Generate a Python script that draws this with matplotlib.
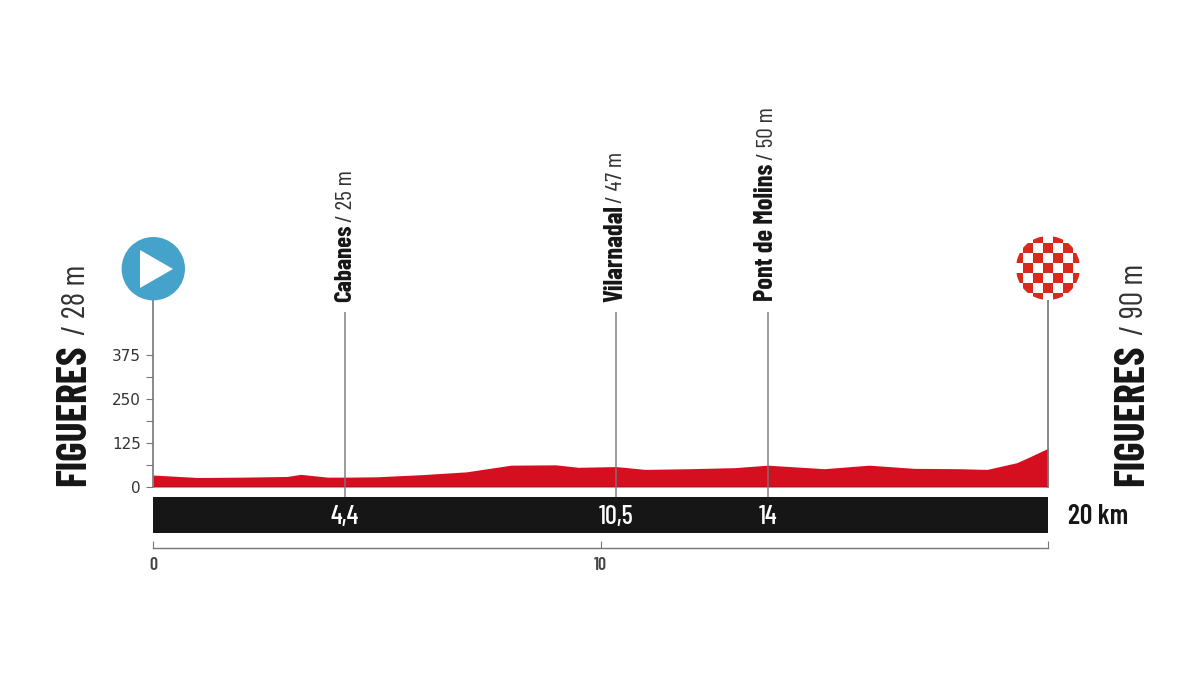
"""Perfil de etapa: Figueres - Figueres, 20 km."""
import matplotlib
matplotlib.use("Agg")
import matplotlib.pyplot as plt
from matplotlib.patches import Circle, Polygon, Rectangle
from matplotlib.transforms import Affine2D

# profile
km = [0, 1, 2, 3, 3.3, 3.9, 4.4, 5, 6, 7, 8, 9, 9.5, 10.35, 11, 12, 13, 13.74, 15, 16, 17, 18, 18.64, 19.3, 19.53, 20]
elev = [34, 27, 28, 30, 36, 28, 28, 29, 35, 43, 62, 63, 56, 58, 50, 52, 55, 62, 52, 62, 53, 52, 50, 69, 82, 110]

# waypoints
way_km = [4.29, 10.35, 13.74]
way_names = ["Cabanes", "Vilarnadal", "Pont de Molins"]
way_alts = ["/ 25 m", "/ 47 m", "/ 50 m"]
way_labels = ["4,4", "10,5", "14"]

y_major = [0, 125, 250, 375]
y_minor = [62.5, 187.5, 312.5]
x_ticks = [0, 10, 20]
x_labels = ["0", "10", ""]

start_name = "FIGUERES"
start_alt = "/ 28 m"
finish_name = "FIGUERES"
finish_alt = "/ 90 m"
total = "20 km"

RED = "#d50f20"
BLACK = "#161616"
GREY = "#777777"
BLUE = "#45a3cb"
CHECK = "#d9281c"
NARROW = ["Barlow Condensed", "Liberation Sans"]

PX_M = 0.352  # pixels per metre

fig = plt.figure(figsize=(12, 6.75), dpi=100)
ax = fig.add_axes([153 / 1200, (675 - 487) / 675, 895 / 1200, 187 / 675])
ax.set_xlim(0, 20)
ax.set_ylim(0, 187 / PX_M)
ax.patch.set_alpha(0)

# figure pixels, y going down as in the reference
px = Affine2D().scale(1, -1).translate(0, 675)


def vtext(x, y, s, size, weight="bold", color=BLACK):
    """Texte vertical, x = ligne de base, y = début du texte (pixels)."""
    ax.text(x, y, s, transform=px, rotation=90, rotation_mode="anchor", ha="left", va="baseline",
            fontsize=size, fontweight=weight, color=color, family=NARROW, clip_on=False)


ax.fill_between(km, elev, 0, color=RED, linewidth=0, zorder=2)
ax.axhline(0, color="#4a0c12", lw=1.0, zorder=3)

# distance bar
ax.barh(-79, 20, height=104, left=0, color=BLACK, clip_on=False, zorder=2)
ax.text(1128, 517, total, transform=px, ha="right", va="center", fontsize=20, fontweight=600,
        color=BLACK, family=NARROW)

ax.vlines(way_km, -27, 497, color=GREY, lw=1.2, alpha=0.85, clip_on=False, zorder=4)
for x, lab in zip(way_km, way_labels):
    ax.text(x, -85, lab, ha="center", va="center", color="white", fontsize=19, fontweight=500,
            family=NARROW, zorder=5)

# waypoint names
vtext(351.6, 302, way_names[0], 18)
vtext(351.6, 222, way_alts[0], 17, "normal", "#333333")
vtext(622, 302, way_names[1], 19)
vtext(622, 203, way_alts[1], 17, "normal", "#333333")
vtext(773, 301, way_names[2], 19)
vtext(773, 160, way_alts[2], 17, "normal", "#333333")

# start / finish names
vtext(85, 486, start_name, 30)
vtext(85, 335, start_alt, 23, "normal", "#333333")
vtext(1143, 486, finish_name, 30)
vtext(1143, 335, finish_alt, 23, "normal", "#333333")

# axes
ax.spines["top"].set_visible(False)
for side in ["left", "right"]:
    ax.spines[side].set_color(GREY)
    ax.spines[side].set_linewidth(1.2)
ax.spines["bottom"].set_position(("outward", 61.3 * 0.72))
ax.spines["bottom"].set_color(GREY)
ax.spines["bottom"].set_linewidth(1.0)

ax.set_yticks(y_major)
ax.set_yticks(y_minor, minor=True)
ax.tick_params(axis="y", which="both", length=5, width=0.8, color=GREY, pad=3.6)
ax.tick_params(axis="y", labelsize=11, labelcolor="#333333")
ax.set_xticks(x_ticks)
ax.set_xticklabels(x_labels)
ax.tick_params(axis="x", direction="in", length=5, width=0.8, color=GREY, pad=6.5, labelsize=13, labelcolor="#444444")
for lab in ax.get_xticklabels():
    lab.set_fontweight(600)
    lab.set_family(NARROW)

# start icon
ax.add_patch(Circle((153.3, 268.7), 31.7, transform=px, color=BLUE, lw=0, clip_on=False, zorder=6))
ax.add_patch(Polygon([(140, 250), (173, 269), (140, 288)], closed=True, transform=px, color="white", lw=0,
                     clip_on=False, zorder=7))

# finish icon
clip = Circle((1048, 268), 32, transform=px)
cell = 9.9
for i in range(-4, 5):
    for j in range(-4, 5):
        color = CHECK if (i + j) % 2 == 0 else "white"
        r = Rectangle((1048 + (i - 0.5) * cell, 268 + (j - 0.5) * cell), cell, cell, transform=px,
                      facecolor=color, lw=0, zorder=6)
        r.set_clip_path(clip)
        ax.add_patch(r)

fig.savefig("out.png", dpi=100)
